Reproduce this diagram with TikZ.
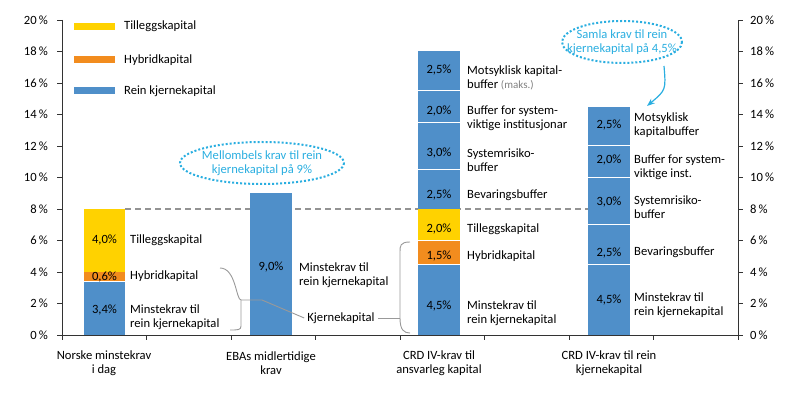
\documentclass[tikz,border=0pt]{standalone}
\usepackage{fontspec}
\setmainfont{Carlito}
\usetikzlibrary{arrows.meta}
\definecolor{cb}{HTML}{4F8FC9}
\definecolor{co}{HTML}{F28C1E}
\definecolor{cy}{HTML}{FFD200}
\definecolor{cc}{HTML}{2AAEE0}
\begin{document}
\begin{tikzpicture}[x=1pt,y=-1pt,font=\fontsize{12.6}{14.5}\selectfont,
 seg/.style={draw=white,line width=1pt},
 lab/.style={anchor=west,align=left,inner sep=0pt},
 pct/.style={inner sep=0pt},
 cat/.style={align=center,inner sep=0pt},
 brk/.style={draw=gray!80,line width=0.9pt},
 ell/.style={draw=cc,line width=2pt,dotted},
 ax/.style={draw=black!80,line width=0.6pt}]
\useasboundingbox (0,0) rectangle (800,403);
% axes
\draw[ax] (62,20) -- (62,335) -- (738,335) -- (738,20);
\foreach \p in {0,2,...,20}{
 \pgfmathsetmacro{\yy}{335-15.75*\p}
 \draw[ax] (57,\yy) -- (62,\yy);
 \draw[ax] (738,\yy) -- (743,\yy);
 \node[anchor=east,inner sep=0pt] at (48,\yy) {\p\,\%};
 \node[anchor=west,inner sep=0pt] at (750,\yy) {\p\,\%};
}
\foreach \i in {0,...,8}{\draw[ax] (62+84.5*\i,335) -- (62+84.5*\i,340);}
% legend
\fill[cy] (74,23) rectangle (115,30); \node[lab] (l1) at (124,26) {Tilleggskapital};
\fill[co] (74,56) rectangle (115,63); \node[lab] (l2) at (124,60) {Hybridkapital};
\fill[cb] (74,87) rectangle (115,94); \node[lab] (l3) at (124,91) {Rein kjernekapital};
% dashed line
\draw[gray!85,dash pattern=on 6pt off 4pt,line width=2.2pt] (125,209) -- (588,209);
% bar1
\fill[cb] (84,335) rectangle (125,281.45);
\fill[co] (84,281.45) rectangle (125,272);
\fill[cy] (84,272) rectangle (125,209);
\draw[seg] (84,281.45) -- (125,281.45);
\node[pct] (b1a) at (104.5,240.5) {4,0\%};
\node[pct] (b1b) at (104.5,277) {0,6\%};
\node[pct] (b1c) at (104.5,310) {3,4\%};
\node[lab] (t1a) at (130,240.5) {Tilleggskapital};
\node[lab] (t1b) at (130,276) {Hybridkapital};
\node[lab] (t1c) at (130,317) {Minstekrav til\\rein kjernekapital};
% bar2
\fill[cb] (250,335) rectangle (292,193.25);
\node[pct] (b2) at (271,267) {9,0\%};
\node[lab] (t2) at (299,275) {Minstekrav til\\rein kjernekapital};
% bar3
\fill[cb] (418,335) rectangle (460,264.1);
\fill[co] (418,264.1) rectangle (460,240.5);
\fill[cy] (418,240.5) rectangle (460,209);
\fill[cb] (418,209) rectangle (460,51.5);
\foreach \yy in {264.1,240.5,169.6,122.4,90.9}{\draw[seg] (418,\yy) -- (460,\yy);}
\node[pct] at (439,306) {4,5\%};
\node[pct] at (439,256) {1,5\%};
\node[pct] at (439,229) {2,0\%};
\node[pct] at (439,195) {2,5\%};
\node[pct] at (439,153) {3,0\%};
\node[pct] at (439,111) {2,0\%};
\node[pct] at (439,70) {2,5\%};
\node[lab] (t3a) at (467,78) {Motsyklisk kapital-\\buffer {\color{gray}\fontsize{11}{12}\selectfont(maks.)}};
\node[lab] (t3b) at (467,118) {Buffer for system-\\viktige institusjonar};
\node[lab] (t3c) at (467,160) {Systemrisiko-\\buffer};
\node[lab] (t3d) at (467,195) {Bevaringsbuffer};
\node[lab] (t3e) at (467,229) {Tilleggskapital};
\node[lab] (t3f) at (467,256) {Hybridkapital};
\node[lab] (t3g) at (467,313) {Minstekrav til\\rein kjernekapital};
% bar4
\fill[cb] (588,335) rectangle (630,106.6);
\foreach \yy in {264.1,224.75,177.5,146}{\draw[seg] (588,\yy) -- (630,\yy);}
\node[pct] at (609,300) {4,5\%};
\node[pct] at (609,253) {2,5\%};
\node[pct] at (609,202) {3,0\%};
\node[pct] at (609,160) {2,0\%};
\node[pct] at (609,125) {2,5\%};
\node[lab] (t4a) at (634,125) {Motsyklisk\\kapitalbuffer};
\node[lab] (t4b) at (634,167) {Buffer for system-\\viktige inst.};
\node[lab] (t4c) at (634,207) {Systemrisiko-\\buffer};
\node[lab] (t4d) at (634,252) {Bevaringsbuffer};
\node[lab] (t4e) at (634,305) {Minstekrav til\\rein kjernekapital};
% Kjernekapital
\node[inner sep=3pt] (kj) at (341,318) {Kjernekapital};
\draw[brk] (220,268) .. controls (236,268) and (236,300) .. (241,300) -- (241,326) .. controls (241,330) and (238,330) .. (230,330);
\draw[brk] (241,300) -- (262,300) -- (kj.west);
\draw[brk] (410,242) .. controls (400,242) and (400,246) .. (400,252) -- (400,318) .. controls (400,330) and (404,333) .. (410,333);
\draw[brk] (400,318) -- (kj.east);
% categories
\node[cat] at (104,363) {Norske minstekrav\\i dag};
\node[cat] at (271,363) {EBAs midlertidige\\krav};
\node[cat] at (439,363) {CRD IV-krav til\\ansvarleg kapital};
\node[cat] at (609,363) {CRD IV-krav til rein\\kjernekapital};
% ellipses
\draw[ell] (262,163) ellipse [x radius=82,y radius=21];
\node[cat,text=cc] (e1) at (262,163) {Mellombels krav til rein\\kjernekapital på 9\%};
\draw[ell] (622,42) ellipse [x radius=60,y radius=21];
\node[cat,text=cc] (e2) at (622,42) {Samla krav til rein\\kjernekapital på 4,5\%};
\coordinate (tip) at (647,106);
\draw[cc,line width=1.2pt,-{Stealth[length=8pt]}] (664,66) .. controls (666,90) .. (tip);
\end{tikzpicture}
\end{document}
